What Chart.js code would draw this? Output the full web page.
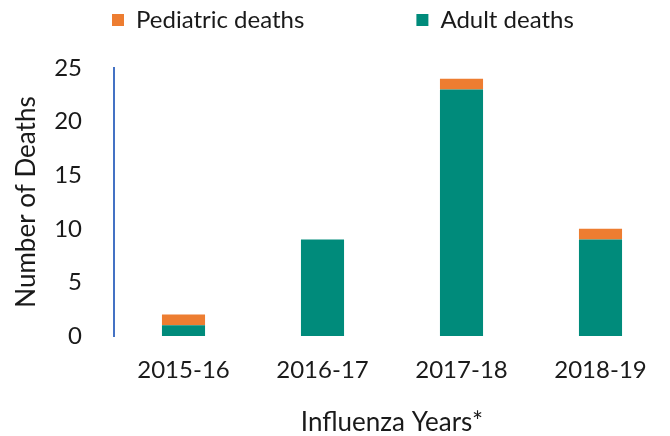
<!DOCTYPE html>
<html>
<head>
<meta charset="utf-8">
<script src="https://cdn.jsdelivr.net/npm/chart.js@4"></script>
<style>
  html, body { margin: 0; padding: 0; background: #fff; }
  #wrap { width: 670px; height: 436px; }
</style>
</head>
<body>
<div id="wrap"><canvas id="deaths" width="670" height="436"></canvas></div>
<script>
var years = ['2015-16', '2016-17', '2017-18', '2018-19'];
var adultDeaths = [1, 9, 23, 9];
var pediatricDeaths = [1, 0, 1, 1];
var yTicks = [0, 5, 10, 15, 20, 25];

var textColor = '#1a1a1a';
var fontFamily = 'Lato, "Open Sans", sans-serif';

// legend padding is large (it spaces the items), so keep both items on one row
// and fix the legend box height by hand
var legendSpace = {
    id: 'legendSpace',
    beforeInit: function(chart) {
        var fit = chart.legend.fit;
        chart.legend.fit = function() {
            this.maxWidth = 800;
            fit.bind(chart.legend)();
            this.height = 172;
        };
    },
    beforeDraw: function(chart) {
        chart.legend.right = 800;
    }
};

var ctx = document.getElementById('deaths').getContext('2d');

new Chart(ctx, {
    type: 'bar',
    data: {
        labels: years,
        datasets: [
            {
                label: 'Adult deaths',
                data: adultDeaths,
                backgroundColor: '#008B7B',
                barPercentage: 0.31,
                categoryPercentage: 1
            },
            {
                label: 'Pediatric deaths',
                data: pediatricDeaths,
                backgroundColor: '#ED7D31',
                barPercentage: 0.31,
                categoryPercentage: 1
            }
        ]
    },
    plugins: [legendSpace],
    options: {
        responsive: false,
        animation: false,
        layout: { padding: { left: 0, right: 0, top: -104, bottom: -2 } },
        plugins: {
            tooltip: { enabled: false },
            legend: {
                reverse: true,
                align: 'start',
                labels: {
                    color: textColor,
                    font: { family: fontFamily, size: 24 },
                    boxWidth: 12,
                    boxHeight: 12,
                    padding: 112
                }
            }
        },
        scales: {
            x: {
                stacked: true,
                grid: { display: false },
                border: { display: false },
                ticks: {
                    color: textColor,
                    font: { family: fontFamily, size: 24 },
                    padding: 12
                },
                title: {
                    display: true,
                    text: 'Influenza Years*',
                    color: textColor,
                    font: { family: fontFamily, size: 26 },
                    padding: { top: 10, bottom: 0 }
                }
            },
            y: {
                stacked: true,
                min: 0,
                max: 25,
                afterBuildTicks: function(scale) {
                    scale.ticks = yTicks.map(function(v) { return { value: v }; });
                },
                afterFit: function(scale) {
                    scale.width = 114;
                },
                grid: { display: false },
                border: { display: true, color: '#4472C4', width: 2 },
                ticks: {
                    color: textColor,
                    font: { family: fontFamily, size: 24 },
                    padding: 24
                },
                title: {
                    display: true,
                    text: 'Number of Deaths',
                    color: textColor,
                    font: { family: fontFamily, size: 26 },
                    padding: { top: 11, bottom: 6 }
                }
            }
        }
    }
});
</script>
</body>
</html>
